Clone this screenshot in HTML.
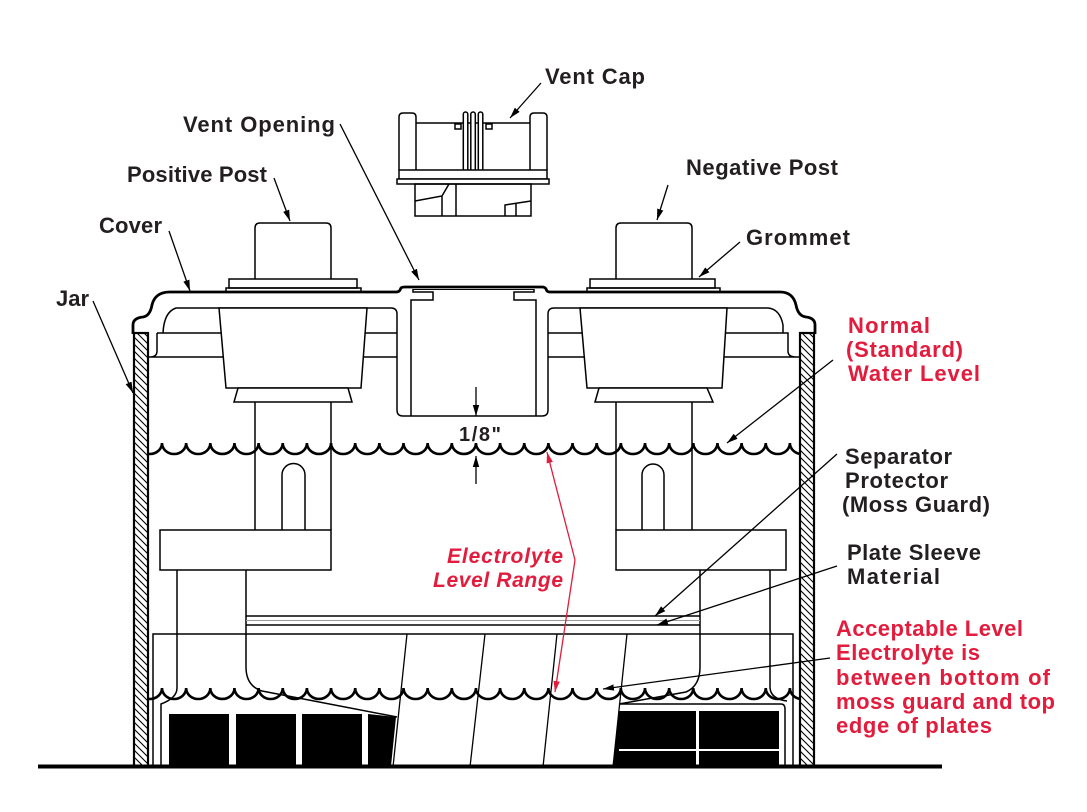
<!DOCTYPE html>
<html><head><meta charset="utf-8"><style>
html,body{margin:0;padding:0;background:#fff;}
svg{display:block;}
.t{font-family:"Liberation Sans",Arial,sans-serif;font-weight:bold;font-size:22px;fill:#231f20;}
.r{fill:#e31b3c;}
.i{font-style:italic;font-size:21px;}
</style></head><body>
<svg width="1087" height="812" viewBox="0 0 1087 812" xmlns="http://www.w3.org/2000/svg">
<defs>
<pattern id="h" patternUnits="userSpaceOnUse" width="7" height="7"><path d="M-1,-1 L8,8 M-1,6 L1,8 M6,-1 L8,1" stroke="#000" stroke-width="1.1"/></pattern>
<marker id="a" markerUnits="userSpaceOnUse" markerWidth="12" markerHeight="8" refX="11" refY="4" orient="auto"><path d="M0,0.8 L11,4 L0,7.2z" fill="#000"/></marker>
<marker id="rd" markerUnits="userSpaceOnUse" markerWidth="12" markerHeight="8" refX="11" refY="4" orient="auto"><path d="M0,0.8 L11,4 L0,7.2z" fill="#e31b3c"/></marker>
</defs>
<rect width="1087" height="812" fill="#fff"/>

<g fill="none" stroke="#000" stroke-width="1.5">
<!-- Vent cap -->
<path d="M399,170 L399,117 Q399,113 403,113 L412,113 Q416,113 416,117 L416,170"/>
<path d="M416,123 L530,123"/>
<path d="M530,170 L530,117 Q530,113 534,113 L543,113 Q547,113 547,117 L547,170"/>
<rect x="455" y="124" width="6" height="5"/>
<rect x="486" y="124" width="6" height="5"/>
<rect x="463.3" y="112" width="4.5" height="59" rx="2.2" fill="#fff"/>
<rect x="470.8" y="112" width="4.5" height="59" rx="2.2" fill="#fff"/>
<rect x="478.3" y="112" width="4.5" height="59" rx="2.2" fill="#fff"/>
<rect x="399" y="170" width="148" height="9" fill="#fff"/>
<rect x="397" y="179" width="152" height="5" fill="#fff"/>
<rect x="415" y="184" width="116" height="32"/>
<path d="M415,201 L442,196 L449,184 M442,196 L442,216 M456,184 L456,216"/>
<path d="M505,216 L505,205 L531,201 M516,203 L516,216"/>

<!-- posts -->
<path d="M255,279 L255,228 Q255,223 260,223 L326,223 Q331,223 331,228 L331,279"/>
<rect x="229" y="279" width="128" height="9"/>
<rect x="226" y="288" width="135" height="4"/>
<path d="M616,279 L616,228 Q616,223 621,223 L687,223 Q692,223 692,228 L692,279"/>
<rect x="590" y="279" width="125" height="9"/>
<rect x="587" y="288" width="133" height="4"/>

<!-- inner cover and vent housing -->
<path d="M163,333 Q164,312 176,308 L391,308 Q397,308 397,314 L397,410 Q397,416 403,416 L542,416 Q548,416 548,410 L548,314 Q548,308 554,308 L768,308 Q780,309 783,325 L783,333"/>
<path d="M411,416 L411,300 L433,300 L433,292 L413,292 L413,289"/>
<path d="M536,416 L536,300 L514,300 L514,292 L534,292 L534,289"/>
<path d="M413,289.5 L534,289.5" stroke-width="1"/>
<!-- bands -->
<path d="M157,333 L397,333 M149,357 L397,357 M157,333 L157,351 Q157,357 150,357"/>
<path d="M548,333 L788,333 L788,351 Q788,357 796,357 M548,357 L799,357"/>
<!-- trapezoids -->
<path d="M219,308 L367,308 L361,388 L226,388 Z" fill="#fff"/>
<path d="M238,388 L348,388 L352,402 L234,402 Z" fill="#fff"/>
<path d="M580,308 L727,308 L722,388 L587,388 Z" fill="#fff"/>
<path d="M599,388 L707,388 L713,402 L595,402 Z" fill="#fff"/>
<!-- columns -->
<path d="M255,402 L255,530 M331,402 L331,530 M616,402 L616,530 M692,402 L692,530"/>
<path d="M282,530 L282,475 A11.5,11.5 0 0 1 305,475 L305,530"/>
<path d="M642,530 L642,475 A11,11 0 0 1 664,475 L664,530"/>
<rect x="160" y="530" width="171" height="40"/>
<rect x="616" y="530" width="170" height="40"/>
<!-- under straps -->
<path d="M177,570 L177,688 Q177,698 161,704 L161,767"/>
<path d="M246,570 L246,667 Q246,686 262,691 L397,717"/>
<path d="M700,570 L700,667 Q700,686 686,692 L619,704 L781,704 Q785,704 785,709 L785,767"/>
<path d="M770,570 L770,688 Q771,699 787,701"/>
<!-- box -->
<path d="M153,767 L153,634 L793,634 L793,767"/>
<!-- moss guard -->
<path d="M246,616 L700,616 M246,625 L700,625"/>
<path d="M246,620.5 L700,620.5" stroke="#999" stroke-width="1"/>
<!-- slanted plates -->
<path d="M407,634 L393,767 M485,634 L470,767 M557,634 L543,767 M627,634 L613,767" stroke-width="1.3"/>
</g>

<!-- black plates -->
<g fill="#000">
<rect x="169" y="714" width="60" height="52"/>
<rect x="236" y="714" width="60" height="52"/>
<rect x="302" y="714" width="60" height="52"/>
<path d="M368,714 L396,717 L391,766 L368,766 Z"/>
<path d="M619,711 L779,711 L779,766 L613,766 Z"/>
</g>
<rect x="696" y="711" width="3" height="55" fill="#fff"/>
<rect x="619" y="749" width="160" height="2" fill="#fff"/>

<!-- water lines -->
<g fill="none" stroke="#000" stroke-width="2.6">
<path d="M137.85,443 a12.075,11 0 0 0 24.15,0 a12.075,11 0 0 0 24.15,0 a12.075,11 0 0 0 24.15,0 a12.075,11 0 0 0 24.15,0 a12.075,11 0 0 0 24.15,0 a12.075,11 0 0 0 24.15,0 a12.075,11 0 0 0 24.15,0 a12.075,11 0 0 0 24.15,0 a12.075,11 0 0 0 24.15,0 a12.075,11 0 0 0 24.15,0 a12.075,11 0 0 0 24.15,0 a12.075,11 0 0 0 24.15,0 a12.075,11 0 0 0 24.15,0 a12.075,11 0 0 0 24.15,0 a12.075,11 0 0 0 24.15,0 a12.075,11 0 0 0 24.15,0 a12.075,11 0 0 0 24.15,0 a12.075,11 0 0 0 24.15,0 a12.075,11 0 0 0 24.15,0 a12.075,11 0 0 0 24.15,0 a12.075,11 0 0 0 24.15,0 a12.075,11 0 0 0 24.15,0 a12.075,11 0 0 0 24.15,0 a12.075,11 0 0 0 24.15,0 a12.075,11 0 0 0 24.15,0 a12.075,11 0 0 0 24.15,0 a12.075,11 0 0 0 24.15,0 a12.075,11 0 0 0 24.15,0"/>
<path d="M137.85,688 a12.075,11 0 0 0 24.15,0 a12.075,11 0 0 0 24.15,0 a12.075,11 0 0 0 24.15,0 a12.075,11 0 0 0 24.15,0 a12.075,11 0 0 0 24.15,0 a12.075,11 0 0 0 24.15,0 a12.075,11 0 0 0 24.15,0 a12.075,11 0 0 0 24.15,0 a12.075,11 0 0 0 24.15,0 a12.075,11 0 0 0 24.15,0 a12.075,11 0 0 0 24.15,0 a12.075,11 0 0 0 24.15,0 a12.075,11 0 0 0 24.15,0 a12.075,11 0 0 0 24.15,0 a12.075,11 0 0 0 24.15,0 a12.075,11 0 0 0 24.15,0 a12.075,11 0 0 0 24.15,0 a12.075,11 0 0 0 24.15,0 a12.075,11 0 0 0 24.15,0 a12.075,11 0 0 0 24.15,0 a12.075,11 0 0 0 24.15,0 a12.075,11 0 0 0 24.15,0 a12.075,11 0 0 0 24.15,0 a12.075,11 0 0 0 24.15,0 a12.075,11 0 0 0 24.15,0 a12.075,11 0 0 0 24.15,0 a12.075,11 0 0 0 24.15,0 a12.075,11 0 0 0 24.15,0"/>
</g>

<!-- jar walls -->
<rect x="132" y="330" width="17" height="438" fill="#fff"/>
<rect x="799" y="330" width="17" height="438" fill="#fff"/>
<rect x="134" y="333" width="14" height="434" fill="url(#h)" stroke="#000" stroke-width="2.2"/>
<rect x="800" y="333" width="14" height="434" fill="url(#h)" stroke="#000" stroke-width="2.2"/>

<!-- cover top -->
<path d="M133,334 L133,325 Q133,318 143,317 Q150,316 152,305 Q155,292 170,292 L396,292 Q399,292 400,290 L401,288 Q402,287 405,287 L542,287 Q545,287 546,289 L547,291 Q548,292 551,292 L780,292 Q793,292 796,305 Q798,316 806,317 Q815,318 815,325 L815,334" fill="none" stroke="#000" stroke-width="2.8"/>

<!-- ground -->
<rect x="38" y="764.5" width="904" height="4" fill="#000"/>

<!-- leader lines -->
<g fill="none" stroke="#000" stroke-width="1.3" marker-end="url(#a)">
<path d="M541,83 L510,118"/>
<path d="M340,124 L419,280"/>
<path d="M274,178 L290,221"/>
<path d="M169,231 L190,291"/>
<path d="M93,301 L133,393"/>
<path d="M668,185 L657,220"/>
<path d="M740,242 L699,277"/>
<path d="M833,360 L727,443"/>
<path d="M837,454 L655,616"/>
<path d="M837,566 L657,625"/>
<path d="M830,658 L603,689"/>
<path d="M476,387 L476,416"/>
<path d="M476,484 L476,456"/>
</g>
<g fill="none" stroke="#e31b3c" stroke-width="1.3" marker-end="url(#rd)">
<path d="M575,560 L547,452"/>
<path d="M575,560 L555,692"/>
</g>

<!-- labels -->
<text class="t" x="545" y="84" textLength="100">Vent Cap</text>
<text class="t" x="183" y="132" textLength="152">Vent Opening</text>
<text class="t" x="127" y="182" textLength="140">Positive Post</text>
<text class="t" x="686" y="175" textLength="152">Negative Post</text>
<text class="t" x="99" y="233" textLength="63">Cover</text>
<text class="t" x="746" y="245" textLength="104">Grommet</text>
<text class="t" x="56" y="306">Jar</text>
<text class="t r" x="848" y="333" textLength="82">Normal</text>
<text class="t r" x="846" y="357" textLength="117">(Standard)</text>
<text class="t r" x="848" y="381" textLength="132">Water Level</text>
<text class="t" x="845" y="464" textLength="107">Separator</text>
<text class="t" x="845" y="488" textLength="103">Protector</text>
<text class="t" x="842" y="512" textLength="148">(Moss Guard)</text>
<text class="t" x="847" y="560" textLength="134">Plate Sleeve</text>
<text class="t" x="847" y="584" textLength="93">Material</text>
<text class="t r" x="836" y="636" textLength="187">Acceptable Level</text>
<text class="t r" x="836" y="660" textLength="144">Electrolyte is</text>
<text class="t r" x="836" y="685" textLength="214">between bottom of</text>
<text class="t r" x="836" y="709" textLength="219">moss guard and top</text>
<text class="t r" x="836" y="733" textLength="156">edge of plates</text>
<text class="t r i" x="447" y="563" textLength="116">Electrolyte</text>
<text class="t r i" x="433" y="587" textLength="130">Level Range</text>
<text class="t" x="459" y="441" textLength="42" style="font-size:20px">1/8"</text>
</svg>
</body></html>
